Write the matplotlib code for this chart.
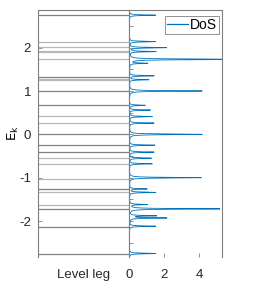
"""Energy levels next to the density of states (MATLAB-style two-panel figure)."""

import matplotlib

matplotlib.use("Agg")
import matplotlib.pyplot as plt
import numpy as np

plt.rcParams["font.family"] = ["Liberation Sans", "DejaVu Sans"]
plt.rcParams["font.size"] = 9.5
plt.rcParams["axes.unicode_minus"] = False

# energy levels (left panel), dark = strong, light = weak
LEVELS_DARK = [2.75, 1.33, 1.0, 0.67, 0.0, -0.25, -0.41, -1.26, -1.72, -2.14, -2.76]
LEVELS_LIGHT = [2.12, 2.02, 1.92, 1.90, 1.73, 1.27, 1.25, 0.42, 0.26,
                -0.55, -0.68, -1.02, -1.34, -1.63]

# DoS peaks (right panel): energy and peak height
PEAK_E = [2.75, 2.14, 2.00, 1.91, 1.73, 1.64, 1.35, 1.26, 1.0, 0.67, 0.56,
          0.41, 0.26, 0.0, -0.25, -0.41, -0.55, -0.68, -1.0, -1.26, -1.34,
          -1.62, -1.72, -1.88, -1.93, -2.12, -2.75]
PEAK_H = [1.5, 1.5, 2.1, 1.5, 7.0, 1.0, 1.4, 1.1, 4.15, 0.9, 1.2,
          1.3, 1.4, 4.15, 1.45, 1.4, 1.25, 1.3, 4.1, 1.0, 1.5,
          1.0, 5.15, 1.5, 2.1, 1.5, 1.5]

YLIM = (-2.83, 2.87)
BLUE = "#0072BD"


def dos_curve(energy):
    gamma = 0.008
    total = np.zeros_like(energy)
    for e0, h in zip(PEAK_E, PEAK_H):
        total += h * gamma**2 / ((energy - e0) ** 2 + gamma**2)
    return total


def style_axes(ax):
    for side in ("top", "left", "right"):
        ax.spines[side].set_color("#7f7f7f")
        ax.spines[side].set_linewidth(0.8)
    ax.spines["bottom"].set_visible(False)
    ax.tick_params(direction="in", labelcolor="#262626", length=3, width=0.6,
                   color="#7f7f7f")


def main():
    fig = plt.figure(figsize=(2.78, 2.92), dpi=100)
    ax_lv = fig.add_axes([0.1367, 0.1199, 0.3284, 0.8459])
    ax_ds = fig.add_axes([0.4651, 0.1199, 0.3345, 0.8459])

    # left panel: levels
    for e in LEVELS_LIGHT:
        ax_lv.axhline(e, color="#b8b8b8", lw=0.9)
    for e in LEVELS_DARK:
        ax_lv.axhline(e, color="#808080", lw=0.9)
    ax_lv.set_xlim(0, 1)
    ax_lv.set_ylim(*YLIM)
    ax_lv.set_yticks([-2, -1, 0, 1, 2])
    ax_lv.set_xticks([0.5])
    ax_lv.set_xticklabels(["Level leg"])
    style_axes(ax_lv)
    ax_lv.tick_params(axis="x", length=0, pad=9)
    ax_lv.tick_params(axis="y", pad=5)
    ax_lv.set_ylabel(r"$\mathrm{E_k}$")
    ax_lv.yaxis.set_label_coords(-0.19, 0.5)

    # right panel: DoS
    energy = np.linspace(YLIM[0], YLIM[1], 40000)
    ax_ds.plot(dos_curve(energy), energy, color=BLUE, lw=0.6, label="DoS")
    ax_ds.set_xlim(0, 5.3)
    ax_ds.set_ylim(*YLIM)
    ax_ds.set_xticks([0, 2, 4])
    ax_ds.set_yticks(np.arange(-2.5, 3.0, 0.5))
    ax_ds.set_yticklabels([])
    style_axes(ax_ds)
    ax_ds.tick_params(axis="x", pad=9)
    leg = ax_ds.legend(loc="upper right", bbox_to_anchor=(0.962, 0.976),
                       fontsize=10, fancybox=False, handlelength=1.5,
                       borderpad=0.15, borderaxespad=0.0, handletextpad=0.15)
    leg.get_frame().set_edgecolor("#7f7f7f")
    leg.get_frame().set_linewidth(0.6)
    leg.get_frame().set_alpha(1)
    for line in leg.get_lines():
        line.set_linewidth(0.9)

    fig.savefig("out.png", dpi=100)
    plt.close(fig)


if __name__ == "__main__":
    main()
